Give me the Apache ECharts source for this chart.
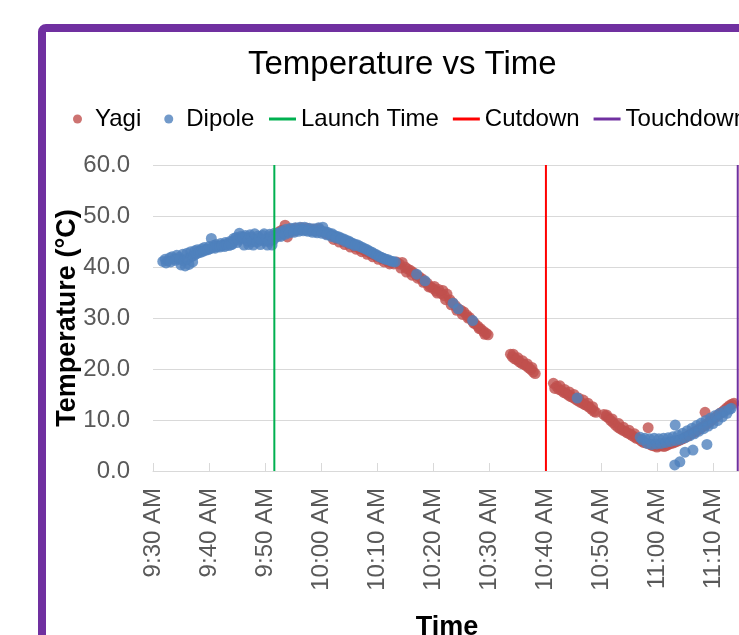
<!DOCTYPE html>
<html>
<head>
<meta charset="utf-8">
<title>Temperature vs Time</title>
<script src="https://cdn.jsdelivr.net/npm/echarts@6/dist/echarts.min.js"></script>
<style>
  html, body { margin: 0; padding: 0; overflow: hidden; background: #ffffff; width: 739px; height: 635px; }
  #frame { position: absolute; left: 38px; top: 24px; border: 8px solid #7030a0; border-radius: 8px; background: #ffffff; }
  #chart { width: 760px; height: 640px; }
</style>
</head>
<body>
<div id="frame"><div id="chart"></div></div>
<script>
// readings: [clock time, temperature °C]
const yagi = [
  ["9:52:00", 46.4], ["9:52:30", 46.9], ["9:53:00", 47.2], ["9:53:35", 48.2], ["9:54:00", 45.9],
  ["9:54:30", 47.4], ["9:55:00", 47.0], ["9:55:30", 47.6], ["9:56:00", 47.3], ["9:56:30", 47.7],
  ["9:57:00", 47.4], ["9:57:30", 47.6], ["9:58:00", 47.3], ["9:58:30", 47.4], ["9:59:00", 47.2],
  ["9:59:30", 47.5], ["10:00:00", 47.1], ["10:00:30", 46.8], ["10:01:00", 46.5], ["10:01:30", 46.4],
  ["10:02:00", 46.1], ["10:02:30", 45.9], ["10:03:00", 45.6], ["10:03:30", 45.5], ["10:04:00", 45.1],
  ["10:04:30", 44.9], ["10:05:00", 44.6], ["10:05:30", 44.4], ["10:06:00", 44.1], ["10:06:30", 43.9],
  ["10:07:00", 43.6], ["10:07:30", 43.4], ["10:08:00", 43.1], ["10:08:30", 42.9], ["10:09:00", 42.6],
  ["10:09:30", 42.4], ["10:10:00", 42.1], ["10:10:30", 41.9], ["10:11:00", 41.6], ["10:11:30", 41.4],
  ["10:12:00", 41.1], ["10:12:30", 40.9], ["10:13:00", 40.6], ["10:13:30", 41.0], ["10:14:00", 40.6],
  ["10:14:30", 40.9], ["10:15:00", 40.0], ["10:15:30", 39.6], ["10:16:00", 39.3], ["10:16:30", 38.9],
  ["10:17:00", 38.5], ["10:17:30", 38.1], ["10:18:00", 37.7], ["10:18:30", 37.2], ["10:19:00", 36.8],
  ["10:19:30", 36.2], ["10:20:00", 35.8], ["10:20:15", 36.2], ["10:20:30", 35.3], ["10:21:00", 35.6],
  ["10:21:30", 34.8], ["10:21:45", 35.4], ["10:22:00", 34.4], ["10:22:30", 34.7], ["10:23:00", 33.6],
  ["10:23:30", 33.0], ["10:24:00", 32.4], ["10:24:30", 31.8], ["10:25:00", 31.5], ["10:25:30", 31.2],
  ["10:26:00", 30.6], ["10:26:30", 30.1], ["10:27:00", 29.5], ["10:27:30", 28.9], ["10:28:00", 28.4],
  ["10:28:30", 27.9], ["10:29:00", 27.4], ["10:29:30", 27.0], ["10:29:50", 26.7],
  ["10:02:15", 45.4], ["10:03:15", 44.9], ["10:04:15", 44.4], ["10:05:15", 43.9], ["10:06:15", 43.5],
  ["10:07:15", 43.0], ["10:08:15", 42.5], ["10:09:15", 42.0], ["10:10:15", 41.5], ["10:11:15", 41.0],
  ["10:12:15", 40.6], ["10:14:15", 39.8], ["10:15:15", 39.0], ["10:16:15", 38.4], ["10:17:15", 37.8],
  ["10:18:15", 37.0], ["10:19:15", 36.1], ["10:20:45", 34.9], ["10:22:15", 33.6], ["10:23:15", 32.6],
  ["10:24:15", 31.5], ["10:25:15", 30.7], ["10:26:15", 30.0], ["10:27:15", 29.0], ["10:28:15", 27.9],
  ["10:29:15", 26.8],
  ["10:33:50", 22.9], ["10:34:10", 22.4], ["10:34:35", 22.0], ["10:35:00", 21.8], ["10:35:25", 21.4],
  ["10:35:50", 21.1], ["10:36:15", 20.9], ["10:36:40", 20.6], ["10:37:05", 20.2], ["10:37:30", 19.9],
  ["10:37:55", 19.4], ["10:38:15", 19.1],
  ["10:34:20", 22.9], ["10:35:10", 22.2], ["10:36:00", 21.6], ["10:36:50", 21.0], ["10:37:40", 20.3],
  ["10:41:30", 17.2], ["10:41:45", 16.2], ["10:42:05", 16.6], ["10:42:30", 16.0], ["10:42:55", 15.8],
  ["10:43:20", 15.4], ["10:43:45", 15.2], ["10:44:10", 14.9], ["10:44:35", 14.6], ["10:45:00", 14.4],
  ["10:45:25", 14.1], ["10:45:50", 13.8], ["10:46:15", 13.5], ["10:46:40", 13.3], ["10:47:05", 13.0],
  ["10:47:30", 12.8], ["10:47:55", 12.5], ["10:48:20", 12.1], ["10:48:45", 11.7], ["10:49:05", 11.5],
  ["10:42:40", 16.7], ["10:43:30", 16.0], ["10:44:20", 15.5], ["10:45:10", 15.0], ["10:46:00", 14.3],
  ["10:46:50", 13.9], ["10:47:40", 13.3], ["10:48:30", 12.6],
  ["10:50:30", 11.1], ["10:50:55", 10.7], ["10:51:20", 10.4], ["10:51:45", 9.9], ["10:52:10", 9.5],
  ["10:52:35", 9.0], ["10:53:00", 8.6], ["10:53:25", 8.3], ["10:53:50", 8.0], ["10:54:15", 7.8],
  ["10:54:40", 7.5], ["10:55:05", 7.3], ["10:55:30", 7.0], ["10:55:55", 6.7], ["10:56:20", 6.4],
  ["10:56:45", 6.3], ["10:57:10", 5.9], ["10:57:35", 5.6], ["10:58:00", 5.5], ["10:58:25", 8.5],
  ["10:51:00", 11.0], ["10:52:00", 10.2], ["10:53:10", 9.3], ["10:54:00", 8.6], ["10:55:00", 8.0],
  ["10:56:00", 7.3],
  ["10:58:45", 5.2], ["10:59:10", 5.0], ["10:59:35", 4.9], ["11:00:00", 4.7], ["11:00:25", 4.9],
  ["11:00:50", 5.0], ["11:01:15", 4.8], ["11:01:40", 5.0], ["11:02:05", 5.2], ["11:02:30", 5.4],
  ["11:02:55", 5.5], ["11:03:20", 5.7], ["11:03:45", 5.9], ["11:04:10", 6.1], ["11:04:35", 6.3],
  ["11:05:00", 6.6], ["11:05:25", 6.8], ["11:05:50", 7.1], ["11:06:15", 7.4], ["11:06:40", 7.6],
  ["11:07:05", 7.9], ["11:07:30", 8.2], ["11:07:55", 8.5], ["11:08:20", 8.8], ["11:08:35", 11.5],
  ["11:08:45", 9.1], ["11:09:10", 9.5], ["11:09:35", 9.8], ["11:10:00", 10.2], ["11:10:25", 10.5],
  ["11:10:50", 10.9], ["11:11:15", 11.3], ["11:11:40", 11.6], ["11:12:05", 12.0], ["11:12:30", 12.4],
  ["11:12:55", 12.8], ["11:13:20", 13.1], ["11:13:45", 13.3]
];

const dipole = [
  ["9:31:45", 41.1], ["9:32:10", 41.5], ["9:32:35", 41.2], ["9:33:00", 41.8], ["9:33:25", 42.0],
  ["9:33:50", 41.6], ["9:34:15", 42.3], ["9:34:40", 41.9], ["9:35:00", 40.4], ["9:35:20", 42.5],
  ["9:35:45", 40.2], ["9:36:05", 42.7], ["9:36:25", 40.5], ["9:36:45", 43.0], ["9:37:05", 41.0],
  ["9:37:30", 43.2], ["9:37:55", 43.4], ["9:38:20", 43.2], ["9:38:45", 43.6], ["9:39:10", 43.8],
  ["9:39:35", 43.5], ["9:40:00", 44.0], ["9:40:25", 45.6], ["9:40:50", 44.2], ["9:41:15", 44.4],
  ["9:41:40", 44.1], ["9:42:05", 44.6], ["9:42:30", 44.3], ["9:42:55", 44.8], ["9:43:20", 44.6],
  ["9:43:45", 45.0], ["9:44:10", 44.5], ["9:44:35", 45.2], ["9:45:00", 44.8], ["9:45:25", 46.6],
  ["9:45:50", 45.5], ["9:46:15", 44.3], ["9:46:40", 45.7], ["9:47:05", 44.4], ["9:47:30", 45.9],
  ["9:47:55", 44.3], ["9:48:20", 45.3], ["9:48:45", 46.1], ["9:49:10", 44.4], ["9:49:35", 46.2],
  ["9:50:00", 45.1], ["9:50:25", 44.3], ["9:50:50", 46.4], ["9:51:15", 44.3], ["9:51:40", 46.6],
  ["9:32:20", 40.8], ["9:33:10", 41.0], ["9:34:00", 41.3], ["9:34:50", 41.5], ["9:35:30", 41.2],
  ["9:36:10", 41.6], ["9:36:50", 42.0], ["9:37:20", 42.3], ["9:37:45", 42.6], ["9:38:10", 42.8],
  ["9:38:35", 42.9], ["9:39:00", 43.1], ["9:39:25", 43.3], ["9:39:50", 43.4], ["9:40:15", 43.6],
  ["9:40:40", 43.8], ["9:41:05", 43.7], ["9:41:30", 44.0], ["9:41:55", 43.9], ["9:42:20", 44.2],
  ["9:42:45", 44.0], ["9:43:10", 44.3], ["9:43:35", 44.2], ["9:44:00", 44.4], ["9:44:25", 45.6],
  ["9:44:50", 45.8], ["9:45:15", 45.3], ["9:45:40", 46.0], ["9:46:05", 45.9], ["9:46:30", 46.2],
  ["9:46:55", 45.1], ["9:47:20", 46.3], ["9:47:45", 45.0], ["9:48:10", 46.5], ["9:48:35", 44.9],
  ["9:49:00", 45.7], ["9:49:25", 45.2], ["9:49:50", 46.5], ["9:50:15", 45.6], ["9:50:40", 45.0],
  ["9:51:05", 46.0], ["9:51:30", 45.3],
  ["9:52:05", 45.9], ["9:52:20", 46.6], ["9:52:40", 46.2], ["9:53:00", 47.0], ["9:53:20", 46.7],
  ["9:53:45", 47.4], ["9:54:10", 47.1], ["9:54:35", 47.6], ["9:55:00", 47.2], ["9:55:25", 47.7],
  ["9:55:50", 47.3], ["9:56:15", 47.8], ["9:56:40", 47.4], ["9:57:05", 47.8], ["9:57:30", 47.2],
  ["9:57:55", 47.6], ["9:58:20", 47.1], ["9:58:45", 47.5], ["9:59:10", 47.0], ["9:59:35", 47.7],
  ["10:00:00", 47.1], ["10:00:20", 47.8], ["10:00:45", 46.9], ["10:01:10", 46.8], ["10:01:35", 46.5],
  ["10:02:00", 46.5], ["10:02:25", 46.2], ["10:02:50", 46.0], ["10:03:15", 45.9], ["10:03:40", 45.6],
  ["10:04:05", 45.5], ["10:04:30", 45.2], ["10:04:55", 45.1], ["10:05:20", 44.8], ["10:05:45", 44.6],
  ["10:06:10", 44.4], ["10:06:35", 44.3], ["10:07:00", 44.0], ["10:07:25", 43.8], ["10:07:50", 43.6],
  ["10:08:15", 43.4], ["10:08:40", 43.1], ["10:09:05", 42.9], ["10:09:30", 42.6], ["10:09:55", 42.4],
  ["10:10:20", 42.1], ["10:10:45", 41.9], ["10:11:10", 41.7], ["10:11:35", 41.5], ["10:12:00", 41.4],
  ["10:12:25", 41.2], ["10:12:50", 41.1], ["10:13:15", 41.0],
  ["9:52:50", 46.0], ["9:53:35", 46.4], ["9:54:20", 46.7], ["9:55:10", 46.8], ["9:56:00", 47.0],
  ["9:56:50", 47.1], ["9:57:40", 47.0], ["9:58:30", 46.8], ["9:59:20", 46.7], ["10:00:10", 46.6],
  ["10:01:00", 46.3], ["10:01:50", 46.0], ["10:02:40", 45.7], ["10:03:30", 45.4], ["10:04:20", 45.0],
  ["10:05:10", 44.6], ["10:06:00", 44.2],
  ["10:17:05", 38.6], ["10:18:35", 37.3], ["10:23:35", 32.9], ["10:24:30", 31.8], ["10:27:05", 29.5],
  ["10:45:45", 14.3],
  ["10:57:00", 6.6], ["10:57:25", 6.1], ["10:57:50", 6.4], ["10:58:15", 5.4], ["10:58:40", 6.3],
  ["10:59:05", 5.2], ["10:59:30", 6.4], ["10:59:55", 5.3], ["11:00:20", 6.3], ["11:00:45", 5.4],
  ["11:01:10", 6.4], ["11:01:35", 5.6], ["11:02:00", 6.5], ["11:02:25", 5.8], ["11:02:50", 6.7],
  ["11:03:15", 9.0], ["11:03:20", 6.0], ["11:03:45", 7.0], ["11:04:10", 6.2], ["11:04:35", 7.4],
  ["11:05:00", 6.5], ["11:05:25", 7.9], ["11:05:50", 6.9], ["11:06:15", 8.4], ["11:06:40", 7.3],
  ["11:07:05", 8.9], ["11:07:30", 7.8], ["11:07:55", 9.4], ["11:08:20", 8.3], ["11:08:45", 9.9],
  ["11:09:10", 8.8], ["11:09:35", 10.4], ["11:10:00", 9.3], ["11:10:25", 10.9], ["11:10:50", 9.9],
  ["11:11:15", 11.3], ["11:11:40", 10.6], ["11:12:05", 11.7], ["11:12:30", 11.3], ["11:12:55", 12.1],
  ["11:13:15", 12.3],
  ["11:03:10", 1.2], ["11:04:05", 1.8], ["11:05:00", 3.7], ["11:06:25", 4.1], ["11:08:55", 5.2]
];

// event times drawn as vertical lines
const launchTime = "9:51:40";
const cutdownTime = "10:40:10";
const touchdownTime = "11:14:25";

// axis ranges (minutes after midnight for time)
const timeStart = "9:30:00";
const timeEnd = "11:15:00";
const timeStep = 10;
const tempMin = 0;
const tempMax = 60;
const tempStep = 10;

const font = "Liberation Sans, Arial, sans-serif";

function toMin(s) {
  const [h, m, sec] = s.split(":").map(Number);
  return h * 60 + m + (sec || 0) / 60;
}

function clockLabel(v) {
  if (Math.round(v) % timeStep !== 0) return "";
  const h = Math.floor(v / 60);
  const m = Math.round(v % 60);
  const h12 = h % 12 === 0 ? 12 : h % 12;
  return h12 + ":" + String(m).padStart(2, "0") + (h < 12 ? " AM" : " PM");
}

function vline(name, time, color) {
  const x = toMin(time);
  return {
    name: name,
    type: "line",
    data: [[x, tempMin], [x, tempMax]],
    symbol: "none",
    lineStyle: { color: color, width: 2 },
    itemStyle: { color: color },
    z: 5,
  };
}

const chart = echarts.init(document.getElementById("chart"));
chart.setOption({
  animation: false,
  textStyle: { fontFamily: font },
  title: {
    text: "Temperature vs Time",
    left: 202,
    top: 16,
    padding: 0,
    textStyle: { fontSize: 33, fontWeight: "normal", color: "#000000", fontFamily: font },
  },
  legend: [
    {
      data: ["Yagi", "Dipole"],
      left: 27,
      top: 75,
      padding: 0,
      icon: "circle",
      itemWidth: 25,
      itemHeight: 9,
      itemGap: 23,
      textStyle: { fontSize: 24, color: "#000000", fontFamily: font },
    },
    {
      data: ["Launch Time", "Cutdown", "Touchdown"],
      left: 223,
      top: 75,
      padding: 0,
      icon: "rect",
      itemWidth: 27,
      itemHeight: 3,
      itemGap: 14,
      textStyle: { fontSize: 24, color: "#000000", fontFamily: font },
    },
  ],
  grid: {
    left: 107,
    top: 133,
    right: 65,
    bottom: 201,
    outerBoundsMode: "none",
  },
  xAxis: {
    type: "value",
    min: toMin(timeStart),
    max: toMin(timeEnd),
    interval: timeStep,
    name: "Time",
    nameLocation: "middle",
    nameGap: 143,
    nameMoveOverlap: false,
    nameTextStyle: { fontSize: 27, fontWeight: "bold", color: "#000000", fontFamily: font },
    axisLine: { lineStyle: { color: "#d9d9d9", width: 1 } },
    axisTick: { inside: true, length: 8, lineStyle: { color: "#d9d9d9" } },
    axisLabel: {
      rotate: 90,
      margin: 17,
      fontSize: 24,
      color: "#595959",
      fontFamily: font,
      formatter: clockLabel,
    },
    splitLine: { show: false },
  },
  yAxis: {
    type: "value",
    min: tempMin,
    max: tempMax,
    interval: tempStep,
    name: "Temperature (°C)",
    nameLocation: "middle",
    nameRotate: 90,
    nameGap: 72,
    nameMoveOverlap: false,
    nameTextStyle: { fontSize: 27, fontWeight: "bold", color: "#000000", fontFamily: font },
    axisLine: { show: false },
    axisTick: { show: false },
    axisLabel: {
      margin: 23,
      fontSize: 24,
      color: "#595959",
      fontFamily: font,
      formatter: (v) => v.toFixed(1),
    },
    splitLine: { lineStyle: { color: "#d9d9d9", width: 1 } },
  },
  series: [
    {
      name: "Yagi",
      type: "scatter",
      symbolSize: 11,
      itemStyle: { color: "#c0504d" },
      data: yagi.map(([t, v]) => [toMin(t), v]),
    },
    {
      name: "Dipole",
      type: "scatter",
      symbolSize: 11,
      itemStyle: { color: "#4f81bd" },
      data: dipole.map(([t, v]) => [toMin(t), v]),
    },
    vline("Launch Time", launchTime, "#00b050"),
    vline("Cutdown", cutdownTime, "#ff0000"),
    vline("Touchdown", touchdownTime, "#7030a0"),
  ],
});
</script>
</body>
</html>
